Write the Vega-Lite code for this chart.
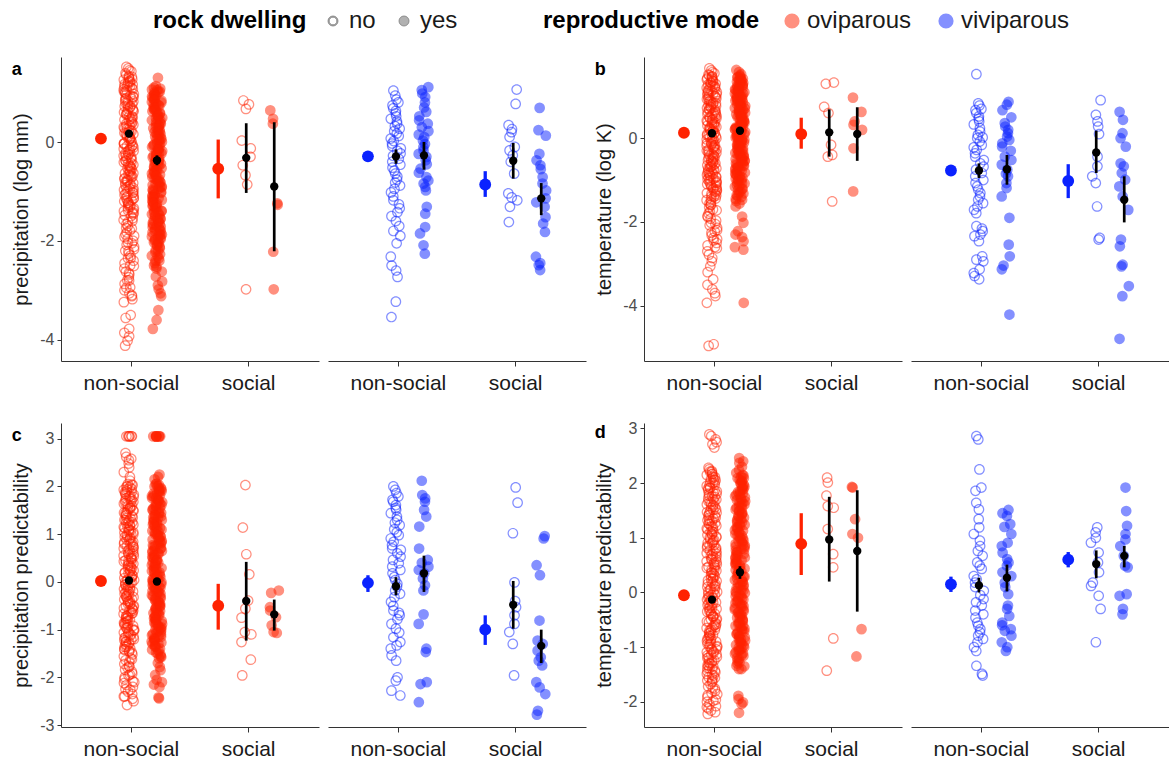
{
"$schema": "https://vega.github.io/schema/vega-lite/v6.json",
"padding": {"left": 11, "top": 9, "right": 0, "bottom": 0},
"config": {"font": "Liberation Sans", "view": {"stroke": null},
 "range": {"category": ["#ff2200", "#0a22ff"]},
 "scale": {"bandPaddingInner": 0, "bandPaddingOuter": 0.1026},
 "axisX": {"labelAngle": 0, "labelFontSize": 21, "labelColor": "#1a1a1a", "tickSize": 5, "labelPadding": 6, "domainColor": "#333", "tickColor": "#333", "grid": false},
 "axisY": {"grid": false, "labelFontSize": 16, "labelColor": "#4d4d4d", "labelExpr": "replace(datum.label, '\u2212', '-')", "titleFontSize": 20, "titleFontWeight": "normal", "titleColor": "#1a1a1a", "tickSize": 4, "labelPadding": 3, "titlePadding": 8, "domainColor": "#333", "tickColor": "#333"},
 "title": {"fontSize": 18, "fontWeight": "bold", "color": "#000", "anchor": "start", "frame": "bounds", "offset": -22}},
"datasets": {"d": [
{"p":"a","m":"oviparous","s":"non-social","r":"no","v":[1.52,1.49,1.45,1.43,1.39,1.36,1.33,1.31,1.29,1.26,1.23,1.21,1.19,1.16,1.13,1.12,1.09,1.06,1.04,1.01,0.99,0.97,0.94,0.91,0.89,0.87,0.84,0.82,0.79,0.77,0.74,0.72,0.7,0.67,0.64,0.62,0.6,0.57,0.55,0.52,0.5,0.47,0.45,0.43,0.4,0.37,0.35,0.33,0.3,0.28,0.25,0.23,0.2,0.18,0.16,0.13,0.1,0.08,0.06,0.03,0.01,-0.02,-0.04,-0.07,-0.09,-0.11,-0.14,-0.16,-0.19,-0.21,-0.24,-0.26,-0.28,-0.31,-0.33,-0.36,-0.38,-0.41,-0.43,-0.46,-0.48,-0.5,-0.53,-0.55,-0.58,-0.6,-0.63,-0.65,-0.68,-0.7,-0.72,-0.75,-0.77,-0.8,-0.82,-0.85,-0.87,-0.9,-0.92,-0.95,-0.97,-1.0,-1.02,-1.05,-1.07,-1.1,-1.13,-1.15,-1.18,-1.2,-1.23,-1.26,-1.28,-1.31,-1.34,-1.37,-1.4,-1.43,-1.46,-1.5,-1.54,-1.58,-1.62,-1.66,-1.7,-1.74,-1.79,-1.83,-1.87,-1.92,-1.96,-2.0,-2.04,-2.08,-2.12,-2.17,-2.21,-2.26,-2.3,-2.35,-2.4,-2.45,-2.51,-2.56,-2.62,-2.68,-2.74,-2.8,-2.87,-2.94,-3.0,-3.06,-3.12,-3.18,-3.24,-3.5,-3.56,-3.78,-3.86,-3.93,-4.02,-4.12]},
{"p":"a","m":"oviparous","s":"non-social","r":"no","v":[1.32,1.27,1.22,1.17,1.12,1.07,1.02,0.97,0.92,0.87,0.82,0.77,0.72,0.67,0.62,0.57,0.52,0.47,0.42,0.37,0.32,0.27,0.22,0.17,0.12,0.07,0.02,-0.03,-0.08,-0.13,-0.18,-0.23,-0.28,-0.33,-0.38,-0.43,-0.48,-0.53,-0.58,-0.63,-0.68,-0.73,-0.78,-0.83,-0.88,-0.93,-0.98,-1.03,-1.08,-1.13,-1.18,-1.23,-1.28,-1.33,-1.38,-1.43,-1.48,-1.6,-1.75,-1.9,-2.05,-2.2,-2.35,-2.5,-2.65,-2.8,-2.95,-3.1]},
{"p":"a","m":"oviparous","s":"non-social","r":"yes","v":[1.3,1.13,1.1,1.08,1.05,1.02,1.0,0.97,0.94,0.92,0.89,0.86,0.84,0.81,0.78,0.76,0.73,0.7,0.68,0.65,0.62,0.6,0.57,0.54,0.52,0.49,0.46,0.44,0.41,0.38,0.36,0.33,0.3,0.28,0.25,0.22,0.2,0.17,0.14,0.12,0.09,0.06,0.04,0.01,-0.02,-0.04,-0.07,-0.1,-0.12,-0.15,-0.18,-0.2,-0.23,-0.26,-0.28,-0.31,-0.34,-0.36,-0.39,-0.42,-0.44,-0.47,-0.5,-0.52,-0.55,-0.58,-0.6,-0.63,-0.66,-0.68,-0.71,-0.74,-0.76,-0.79,-0.82,-0.84,-0.87,-0.9,-0.92,-0.95,-0.98,-1.0,-1.03,-1.06,-1.08,-1.11,-1.14,-1.16,-1.19,-1.22,-1.24,-1.27,-1.3,-1.32,-1.35,-1.38,-1.4,-1.43,-1.46,-1.48,-1.51,-1.54,-1.56,-1.59,-1.62,-1.64,-1.67,-1.7,-1.72,-1.75,-1.78,-1.8,-1.83,-1.86,-1.88,-1.91,-1.94,-1.96,-1.99,-2.02,-2.05,-2.08,-2.12,-2.15,-2.19,-2.23,-2.27,-2.31,-2.35,-2.4,-2.45,-2.5,-2.56,-2.62,-2.72,-2.82,-2.9,-2.98,-3.06,-3.12,-3.4,-3.6,-3.78]},
{"p":"a","m":"oviparous","s":"non-social","r":"yes","v":[1.06,1.01,0.96,0.91,0.85,0.8,0.75,0.69,0.64,0.59,0.53,0.48,0.43,0.37,0.32,0.27,0.21,0.16,0.11,0.05,0.0,-0.05,-0.11,-0.16,-0.21,-0.27,-0.32,-0.37,-0.43,-0.48,-0.53,-0.59,-0.64,-0.69,-0.75,-0.8,-0.85,-0.91,-0.96,-1.01,-1.07,-1.12,-1.17,-1.23,-1.28,-1.33,-1.39,-1.44,-1.49,-1.55,-1.6,-1.65,-1.71,-1.76,-1.81,-1.87,-1.92,-1.97,-2.03,-2.1,-2.2,-2.3,-2.4,-2.52]},
{"p":"a","m":"oviparous","s":"social","r":"no","v":[0.84,0.76,0.67,0.03,-0.13,-0.3,-0.47,-0.67,-0.86,-2.98]},
{"p":"a","m":"oviparous","s":"social","r":"yes","v":[0.64,0.47,0.37,-1.24,-1.27,-2.22,-2.98]},
{"p":"a","m":"viviparous","s":"non-social","r":"no","v":[1.04,0.94,0.86,0.8,0.74,0.68,0.63,0.58,0.52,0.47,0.42,0.37,0.32,0.27,0.22,0.17,0.12,0.07,0.02,-0.03,-0.08,-0.13,-0.18,-0.23,-0.28,-0.34,-0.4,-0.46,-0.52,-0.58,-0.64,-0.7,-0.76,-0.82,-0.88,-0.95,-1.02,-1.1,-1.18,-1.26,-1.34,-1.42,-1.5,-1.6,-1.7,-1.8,-1.9,-2.05,-2.32,-2.5,-2.6,-2.73,-3.23,-3.54]},
{"p":"a","m":"viviparous","s":"non-social","r":"yes","v":[1.11,1.05,0.98,0.91,0.8,0.7,0.61,0.52,0.44,0.37,0.3,0.22,0.15,0.1,0.03,-0.04,-0.1,-0.17,-0.24,-0.3,-0.37,-0.45,-0.54,-0.62,-0.71,-0.78,-0.84,-0.91,-0.98,-1.31,-1.45,-1.72,-1.85,-2.09,-2.26]},
{"p":"a","m":"viviparous","s":"social","r":"no","v":[1.06,0.77,0.34,0.26,0.2,0.1,-0.1,-0.17,-0.27,-0.4,-0.64,-1.04,-1.12,-1.18,-1.31,-1.62]},
{"p":"a","m":"viviparous","s":"social","r":"yes","v":[0.69,0.24,0.13,-0.24,-0.37,-0.47,-0.55,-0.71,-0.84,-0.98,-1.14,-1.22,-1.31,-1.52,-1.65,-1.82,-2.32,-2.45,-2.49,-2.59]},
{"p":"a","m":"oviparous","s":"non-social","r":"all","v":0.07,"lo":0.03,"hi":0.11},
{"p":"a","m":"oviparous","s":"non-social","r":"no","v":0.17,"lo":0.13,"hi":0.21},
{"p":"a","m":"oviparous","s":"non-social","r":"yes","v":-0.37,"lo":-0.47,"hi":-0.27},
{"p":"a","m":"oviparous","s":"social","r":"all","v":-0.54,"lo":-1.14,"hi":0.05},
{"p":"a","m":"oviparous","s":"social","r":"no","v":-0.32,"lo":-1.03,"hi":0.38},
{"p":"a","m":"oviparous","s":"social","r":"yes","v":-0.9,"lo":-2.21,"hi":0.4},
{"p":"a","m":"viviparous","s":"non-social","r":"all","v":-0.29,"lo":-0.34,"hi":-0.24},
{"p":"a","m":"viviparous","s":"non-social","r":"no","v":-0.29,"lo":-0.44,"hi":-0.15},
{"p":"a","m":"viviparous","s":"non-social","r":"yes","v":-0.27,"lo":-0.56,"hi":0.0},
{"p":"a","m":"viviparous","s":"social","r":"all","v":-0.86,"lo":-1.11,"hi":-0.59},
{"p":"a","m":"viviparous","s":"social","r":"no","v":-0.38,"lo":-0.74,"hi":-0.02},
{"p":"a","m":"viviparous","s":"social","r":"yes","v":-1.14,"lo":-1.48,"hi":-0.83},
{"p":"b","m":"oviparous","s":"non-social","r":"no","v":[1.67,1.62,1.58,1.55,1.52,1.5,1.47,1.45,1.42,1.4,1.37,1.35,1.32,1.3,1.27,1.25,1.22,1.2,1.17,1.15,1.12,1.1,1.07,1.05,1.02,1.0,0.97,0.95,0.92,0.9,0.87,0.85,0.82,0.8,0.77,0.75,0.72,0.7,0.67,0.65,0.62,0.6,0.57,0.55,0.52,0.5,0.47,0.45,0.42,0.4,0.37,0.35,0.32,0.3,0.27,0.25,0.22,0.2,0.17,0.15,0.12,0.1,0.07,0.05,0.02,0.0,-0.03,-0.05,-0.08,-0.1,-0.13,-0.15,-0.18,-0.2,-0.23,-0.25,-0.28,-0.3,-0.33,-0.35,-0.38,-0.4,-0.43,-0.45,-0.48,-0.5,-0.53,-0.55,-0.58,-0.6,-0.63,-0.65,-0.68,-0.7,-0.73,-0.75,-0.78,-0.8,-0.83,-0.85,-0.88,-0.9,-0.93,-0.95,-0.98,-1.0,-1.03,-1.05,-1.08,-1.1,-1.13,-1.16,-1.19,-1.22,-1.25,-1.28,-1.31,-1.34,-1.37,-1.4,-1.44,-1.48,-1.52,-1.56,-1.6,-1.65,-1.7,-1.75,-1.8,-1.86,-1.92,-1.97,-2.02,-2.08,-2.14,-2.2,-2.26,-2.32,-2.38,-2.44,-2.5,-2.56,-2.63,-2.7,-2.78,-2.86,-2.94,-3.06,-3.2,-3.37,-3.5,-3.61,-3.7,-3.77,-3.93,-4.92,-4.96]},
{"p":"b","m":"oviparous","s":"non-social","r":"no","v":[1.48,1.43,1.38,1.33,1.28,1.23,1.18,1.13,1.08,1.03,0.98,0.93,0.88,0.83,0.78,0.73,0.68,0.63,0.58,0.53,0.48,0.43,0.38,0.33,0.28,0.23,0.18,0.13,0.08,0.03,-0.02,-0.07,-0.12,-0.17,-0.22,-0.27,-0.32,-0.37,-0.42,-0.47,-0.52,-0.57,-0.62,-0.67,-0.72,-0.77,-0.82,-0.87,-0.92,-0.97,-1.02,-1.07,-1.12,-1.17,-1.22,-1.27,-1.33,-1.39,-1.46,-1.58,-1.72,-1.88,-2.05,-2.23,-2.41,-2.6]},
{"p":"b","m":"oviparous","s":"non-social","r":"yes","v":[1.63,1.58,1.53,1.5,1.47,1.45,1.42,1.4,1.37,1.35,1.32,1.3,1.27,1.25,1.22,1.2,1.17,1.15,1.12,1.1,1.07,1.05,1.02,1.0,0.97,0.95,0.92,0.9,0.87,0.85,0.82,0.8,0.77,0.75,0.72,0.7,0.67,0.65,0.62,0.6,0.57,0.55,0.52,0.5,0.47,0.45,0.42,0.4,0.37,0.35,0.32,0.3,0.27,0.25,0.22,0.2,0.17,0.15,0.12,0.1,0.07,0.05,0.02,0.0,-0.03,-0.05,-0.08,-0.1,-0.13,-0.15,-0.18,-0.2,-0.23,-0.25,-0.28,-0.3,-0.33,-0.35,-0.38,-0.4,-0.43,-0.45,-0.48,-0.5,-0.53,-0.55,-0.58,-0.6,-0.63,-0.66,-0.69,-0.72,-0.75,-0.78,-0.81,-0.84,-0.87,-0.9,-0.93,-0.96,-0.99,-1.02,-1.05,-1.08,-1.12,-1.16,-1.2,-1.24,-1.28,-1.32,-1.36,-1.4,-1.45,-1.5,-1.56,-1.63,-1.87,-2.02,-2.22,-2.3,-2.36,-2.46,-2.6,-2.66,-3.93]},
{"p":"b","m":"oviparous","s":"non-social","r":"yes","v":[1.46,1.41,1.36,1.31,1.26,1.21,1.16,1.11,1.06,1.01,0.96,0.91,0.86,0.81,0.76,0.71,0.66,0.61,0.56,0.51,0.46,0.41,0.36,0.31,0.26,0.21,0.16,0.11,0.06,0.01,-0.04,-0.09,-0.14,-0.19,-0.24,-0.29,-0.34,-0.39,-0.44,-0.49,-0.54,-0.59,-0.64,-0.7,-0.76,-0.82,-0.88,-0.94,-1.0,-1.07,-1.14,-1.22,-1.3,-1.38,-1.47]},
{"p":"b","m":"oviparous","s":"social","r":"no","v":[1.33,1.3,0.75,0.6,-0.16,-0.4,-0.44,-1.51]},
{"p":"b","m":"oviparous","s":"social","r":"yes","v":[0.97,0.63,0.4,0.32,0.2,-0.24,-1.27]},
{"p":"b","m":"viviparous","s":"non-social","r":"no","v":[1.53,0.83,0.78,0.7,0.67,0.6,0.52,0.46,0.4,0.33,0.24,0.16,0.08,0.02,0.0,-0.08,-0.16,-0.22,-0.28,-0.36,-0.44,-0.52,-0.6,-0.68,-0.75,-0.83,-0.91,-1.0,-1.07,-1.15,-1.23,-1.31,-1.39,-1.47,-1.55,-1.63,-1.71,-1.79,-2.1,-2.16,-2.22,-2.3,-2.34,-2.46,-2.82,-2.9,-2.94,-3.13,-3.22,-3.29,-3.37]},
{"p":"b","m":"viviparous","s":"non-social","r":"yes","v":[0.87,0.8,0.67,0.5,0.36,0.28,0.2,0.12,0.04,-0.04,-0.12,-0.2,-0.3,-0.44,-0.52,-0.63,-0.75,-0.85,-0.91,-1.07,-1.19,-1.39,-1.9,-2.54,-2.82,-3.04,-3.13,-4.21]},
{"p":"b","m":"viviparous","s":"social","r":"no","v":[0.91,0.56,0.4,0.28,0.1,-0.44,-0.67,-0.91,-1.07,-1.63,-2.38,-2.42]},
{"p":"b","m":"viviparous","s":"social","r":"yes","v":[0.63,0.44,0.12,0.0,-0.2,-0.6,-0.67,-0.83,-0.99,-1.15,-1.39,-1.71,-2.42,-2.58,-3.02,-3.06,-3.53,-3.77,-4.79]},
{"p":"b","m":"oviparous","s":"non-social","r":"all","v":0.13,"lo":0.1,"hi":0.16},
{"p":"b","m":"oviparous","s":"non-social","r":"no","v":0.12,"lo":0.09,"hi":0.15},
{"p":"b","m":"oviparous","s":"non-social","r":"yes","v":0.18,"lo":0.14,"hi":0.22},
{"p":"b","m":"oviparous","s":"social","r":"all","v":0.1,"lo":-0.25,"hi":0.49},
{"p":"b","m":"oviparous","s":"social","r":"no","v":0.14,"lo":-0.44,"hi":0.69},
{"p":"b","m":"oviparous","s":"social","r":"yes","v":0.1,"lo":-0.54,"hi":0.74},
{"p":"b","m":"viviparous","s":"non-social","r":"all","v":-0.77,"lo":-0.82,"hi":-0.72},
{"p":"b","m":"viviparous","s":"non-social","r":"no","v":-0.77,"lo":-0.95,"hi":-0.6},
{"p":"b","m":"viviparous","s":"non-social","r":"yes","v":-0.74,"lo":-1.11,"hi":-0.4},
{"p":"b","m":"viviparous","s":"social","r":"all","v":-1.02,"lo":-1.43,"hi":-0.62},
{"p":"b","m":"viviparous","s":"social","r":"no","v":-0.34,"lo":-0.83,"hi":0.18},
{"p":"b","m":"viviparous","s":"social","r":"yes","v":-1.47,"lo":-2.01,"hi":-0.91},
{"p":"c","m":"oviparous","s":"non-social","r":"no","v":[3.05,3.05,3.05,3.05,2.7,2.62,2.55,2.48,2.4,2.3,2.2,2.12,2.05,2.03,2.0,1.98,1.95,1.93,1.9,1.88,1.85,1.83,1.8,1.78,1.75,1.73,1.7,1.68,1.65,1.63,1.6,1.58,1.55,1.53,1.5,1.48,1.45,1.43,1.4,1.38,1.35,1.33,1.3,1.28,1.25,1.23,1.2,1.18,1.15,1.13,1.1,1.08,1.05,1.03,1.0,0.98,0.95,0.93,0.9,0.88,0.85,0.83,0.8,0.78,0.75,0.73,0.7,0.68,0.65,0.63,0.6,0.58,0.55,0.53,0.5,0.48,0.45,0.43,0.4,0.38,0.35,0.33,0.3,0.28,0.25,0.23,0.2,0.18,0.15,0.13,0.1,0.08,0.05,0.03,0.0,-0.02,-0.05,-0.07,-0.1,-0.12,-0.15,-0.17,-0.2,-0.22,-0.25,-0.27,-0.3,-0.32,-0.35,-0.37,-0.4,-0.42,-0.45,-0.47,-0.5,-0.52,-0.55,-0.57,-0.6,-0.62,-0.65,-0.67,-0.7,-0.72,-0.75,-0.77,-0.8,-0.82,-0.85,-0.87,-0.9,-0.92,-0.95,-0.97,-1.0,-1.02,-1.05,-1.07,-1.1,-1.12,-1.15,-1.17,-1.2,-1.22,-1.25,-1.27,-1.3,-1.33,-1.36,-1.39,-1.42,-1.45,-1.48,-1.52,-1.56,-1.6,-1.64,-1.68,-1.72,-1.76,-1.8,-1.84,-1.88,-1.92,-1.96,-2.0,-2.04,-2.08,-2.12,-2.16,-2.2,-2.25,-2.3,-2.35,-2.4,-2.45,-2.5,-2.58]},
{"p":"c","m":"oviparous","s":"non-social","r":"no","v":[3.05,3.05,2.58,2.04,1.99,1.94,1.89,1.84,1.79,1.74,1.69,1.64,1.59,1.54,1.49,1.44,1.39,1.34,1.29,1.24,1.19,1.14,1.09,1.04,0.99,0.94,0.89,0.84,0.79,0.74,0.69,0.64,0.59,0.54,0.49,0.44,0.39,0.34,0.29,0.24,0.19,0.14,0.09,0.04,-0.01,-0.06,-0.11,-0.16,-0.21,-0.26,-0.31,-0.36,-0.41,-0.46,-0.51,-0.56,-0.61,-0.66,-0.71,-0.76,-0.81,-0.86,-0.91,-0.96,-1.01,-1.06,-1.11,-1.16,-1.21,-1.26,-1.31,-1.36,-1.41,-1.46,-1.62,-1.78,-1.94,-2.1,-2.26,-2.4]},
{"p":"c","m":"oviparous","s":"non-social","r":"yes","v":[3.05,3.05,3.05,3.05,3.05,3.05,2.25,2.2,2.15,2.06,2.03,2.0,1.97,1.94,1.91,1.88,1.85,1.82,1.79,1.76,1.73,1.7,1.67,1.64,1.61,1.58,1.55,1.52,1.49,1.46,1.43,1.4,1.37,1.34,1.31,1.28,1.25,1.22,1.19,1.16,1.13,1.1,1.07,1.04,1.01,0.98,0.95,0.92,0.89,0.86,0.83,0.8,0.77,0.74,0.71,0.68,0.65,0.62,0.59,0.56,0.53,0.5,0.47,0.44,0.41,0.38,0.35,0.32,0.29,0.26,0.23,0.2,0.17,0.14,0.11,0.08,0.05,0.02,-0.01,-0.04,-0.07,-0.1,-0.13,-0.16,-0.19,-0.22,-0.25,-0.28,-0.31,-0.34,-0.37,-0.4,-0.43,-0.46,-0.49,-0.52,-0.55,-0.58,-0.61,-0.64,-0.67,-0.7,-0.73,-0.76,-0.79,-0.82,-0.85,-0.88,-0.91,-0.94,-0.97,-1.0,-1.03,-1.06,-1.09,-1.12,-1.15,-1.18,-1.21,-1.24,-1.27,-1.3,-1.33,-1.36,-1.4,-1.44,-1.48,-1.52,-1.56,-1.6,-1.7,-1.78,-1.85,-1.95,-2.05,-2.1,-2.15,-2.2,-2.42,-2.44]},
{"p":"c","m":"oviparous","s":"non-social","r":"yes","v":[3.05,3.05,2.05,2.0,1.95,1.9,1.85,1.8,1.75,1.7,1.65,1.6,1.55,1.5,1.45,1.4,1.35,1.3,1.25,1.2,1.15,1.1,1.05,1.0,0.95,0.9,0.85,0.8,0.75,0.7,0.65,0.6,0.55,0.5,0.45,0.4,0.35,0.3,0.25,0.2,0.15,0.1,0.05,0.0,-0.05,-0.1,-0.15,-0.2,-0.25,-0.3,-0.35,-0.4,-0.45,-0.5,-0.55,-0.6,-0.65,-0.7,-0.75,-0.8,-0.85,-0.9,-0.95,-1.0,-1.05,-1.1,-1.15,-1.2,-1.25,-1.3,-1.35,-1.42,-1.5,-1.58]},
{"p":"c","m":"oviparous","s":"social","r":"no","v":[2.03,1.14,0.58,0.16,-0.39,-0.56,-0.75,-1.05,-1.1,-1.26,-1.63,-1.96]},
{"p":"c","m":"oviparous","s":"social","r":"yes","v":[-0.18,-0.23,-0.53,-0.6,-0.74,-0.91,-1.05,-1.07]},
{"p":"c","m":"viviparous","s":"non-social","r":"no","v":[2.0,1.93,1.86,1.79,1.72,1.68,1.61,1.55,1.51,1.44,1.37,1.3,1.24,1.19,1.1,1.04,0.98,0.91,0.84,0.77,0.7,0.67,0.6,0.53,0.46,0.39,0.32,0.25,0.18,0.1,0.04,-0.04,-0.1,-0.18,-0.25,-0.32,-0.42,-0.5,-0.6,-0.65,-0.7,-0.78,-0.88,-0.98,-1.06,-1.16,-1.26,-1.33,-1.4,-1.54,-1.65,-2.0,-2.07,-2.28,-2.38]},
{"p":"c","m":"viviparous","s":"non-social","r":"yes","v":[2.12,1.82,1.75,1.68,1.51,1.37,1.16,0.7,0.46,0.4,0.32,0.25,0.18,0.07,-0.07,-0.18,-0.68,-0.88,-1.4,-1.47,-2.1,-2.14,-2.52]},
{"p":"c","m":"viviparous","s":"social","r":"no","v":[1.98,1.66,1.02,-0.01,-0.4,-0.53,-0.7,-0.88,-1.05,-1.3,-1.96]},
{"p":"c","m":"viviparous","s":"social","r":"yes","v":[0.96,0.91,0.35,0.14,-0.81,-1.23,-1.3,-1.44,-1.58,-1.65,-1.75,-2.1,-2.21,-2.35,-2.7,-2.78]},
{"p":"c","m":"oviparous","s":"non-social","r":"all","v":0.02,"lo":-0.01,"hi":0.05},
{"p":"c","m":"oviparous","s":"non-social","r":"no","v":0.03,"lo":0.0,"hi":0.06},
{"p":"c","m":"oviparous","s":"non-social","r":"yes","v":0.01,"lo":-0.04,"hi":0.06},
{"p":"c","m":"oviparous","s":"social","r":"all","v":-0.5,"lo":-1.0,"hi":-0.04},
{"p":"c","m":"oviparous","s":"social","r":"no","v":-0.4,"lo":-1.23,"hi":0.42},
{"p":"c","m":"oviparous","s":"social","r":"yes","v":-0.68,"lo":-1.02,"hi":-0.37},
{"p":"c","m":"viviparous","s":"non-social","r":"all","v":-0.02,"lo":-0.21,"hi":0.14},
{"p":"c","m":"viviparous","s":"non-social","r":"no","v":-0.09,"lo":-0.28,"hi":0.1},
{"p":"c","m":"viviparous","s":"non-social","r":"yes","v":0.18,"lo":-0.21,"hi":0.55},
{"p":"c","m":"viviparous","s":"social","r":"all","v":-1.0,"lo":-1.32,"hi":-0.7},
{"p":"c","m":"viviparous","s":"social","r":"no","v":-0.48,"lo":-0.98,"hi":0.02},
{"p":"c","m":"viviparous","s":"social","r":"yes","v":-1.34,"lo":-1.7,"hi":-1.0},
{"p":"d","m":"oviparous","s":"non-social","r":"no","v":[2.89,2.86,2.71,2.65,2.28,2.25,2.22,2.2,2.17,2.15,2.12,2.1,2.07,2.05,2.02,2.0,1.97,1.95,1.92,1.9,1.87,1.85,1.82,1.8,1.77,1.75,1.72,1.7,1.67,1.65,1.62,1.6,1.57,1.55,1.52,1.5,1.47,1.45,1.42,1.4,1.37,1.35,1.32,1.3,1.27,1.25,1.22,1.2,1.17,1.15,1.12,1.1,1.07,1.05,1.02,1.0,0.97,0.95,0.92,0.9,0.87,0.85,0.82,0.8,0.77,0.75,0.72,0.7,0.67,0.65,0.62,0.6,0.57,0.55,0.52,0.5,0.47,0.45,0.42,0.4,0.37,0.35,0.32,0.3,0.27,0.25,0.22,0.2,0.17,0.15,0.12,0.1,0.07,0.05,0.02,0.0,-0.03,-0.05,-0.08,-0.1,-0.13,-0.15,-0.18,-0.2,-0.23,-0.25,-0.28,-0.3,-0.33,-0.35,-0.38,-0.4,-0.43,-0.45,-0.48,-0.5,-0.53,-0.55,-0.58,-0.6,-0.63,-0.65,-0.68,-0.7,-0.73,-0.75,-0.78,-0.8,-0.83,-0.85,-0.88,-0.9,-0.93,-0.95,-0.98,-1.0,-1.03,-1.05,-1.08,-1.1,-1.13,-1.15,-1.18,-1.2,-1.23,-1.25,-1.28,-1.3,-1.33,-1.35,-1.38,-1.4,-1.43,-1.46,-1.49,-1.52,-1.55,-1.58,-1.61,-1.64,-1.68,-1.72,-1.76,-1.8,-1.84,-1.88,-1.92,-1.96,-2.0,-2.04,-2.08,-2.12,-2.16,-2.19,-2.22]},
{"p":"d","m":"oviparous","s":"non-social","r":"no","v":[2.8,2.75,2.21,2.16,2.11,2.06,2.01,1.96,1.91,1.86,1.81,1.76,1.71,1.66,1.61,1.56,1.51,1.46,1.41,1.36,1.31,1.26,1.21,1.16,1.11,1.06,1.01,0.96,0.91,0.86,0.81,0.76,0.71,0.66,0.61,0.56,0.51,0.46,0.41,0.36,0.31,0.26,0.21,0.16,0.11,0.06,0.01,-0.04,-0.09,-0.14,-0.19,-0.24,-0.29,-0.34,-0.39,-0.44,-0.49,-0.54,-0.59,-0.64,-0.69,-0.74,-0.79,-0.84,-0.89,-0.94,-0.99,-1.04,-1.09,-1.14,-1.19,-1.24,-1.29,-1.34,-1.39,-1.44,-1.5,-1.56,-1.62,-1.74,-1.86,-1.98,-2.1]},
{"p":"d","m":"oviparous","s":"non-social","r":"yes","v":[2.46,2.4,2.37,2.3,2.24,2.19,2.15,2.12,2.09,2.06,2.03,2.0,1.97,1.94,1.91,1.88,1.85,1.82,1.79,1.76,1.73,1.7,1.67,1.64,1.61,1.58,1.55,1.52,1.49,1.46,1.43,1.4,1.37,1.34,1.31,1.28,1.25,1.22,1.19,1.16,1.13,1.1,1.07,1.04,1.01,0.98,0.95,0.92,0.89,0.86,0.83,0.8,0.77,0.74,0.71,0.68,0.65,0.62,0.59,0.56,0.53,0.5,0.47,0.44,0.41,0.38,0.35,0.32,0.29,0.26,0.23,0.2,0.17,0.14,0.11,0.08,0.05,0.02,-0.01,-0.04,-0.07,-0.1,-0.13,-0.16,-0.19,-0.22,-0.25,-0.28,-0.31,-0.34,-0.37,-0.4,-0.43,-0.46,-0.49,-0.52,-0.55,-0.58,-0.61,-0.64,-0.67,-0.7,-0.73,-0.76,-0.79,-0.82,-0.85,-0.88,-0.91,-0.94,-0.97,-1.0,-1.03,-1.06,-1.09,-1.12,-1.15,-1.2,-1.25,-1.3,-1.35,-1.4,-1.89,-1.95,-2.01,-2.04,-2.2]},
{"p":"d","m":"oviparous","s":"non-social","r":"yes","v":[2.14,2.09,2.04,1.99,1.94,1.89,1.84,1.79,1.74,1.69,1.64,1.59,1.54,1.49,1.44,1.39,1.34,1.29,1.24,1.19,1.14,1.09,1.04,0.99,0.94,0.89,0.84,0.79,0.74,0.69,0.64,0.59,0.54,0.49,0.44,0.39,0.34,0.29,0.24,0.19,0.14,0.09,0.04,-0.01,-0.06,-0.11,-0.16,-0.21,-0.26,-0.31,-0.36,-0.41,-0.46,-0.51,-0.56,-0.61,-0.66,-0.71,-0.76,-0.81,-0.86,-0.91,-0.96,-1.01,-1.06,-1.11,-1.16,-1.22,-1.28,-1.34,-1.4]},
{"p":"d","m":"oviparous","s":"social","r":"no","v":[2.1,2.01,1.77,1.58,1.55,1.16,0.7,0.46,-0.84,-1.43]},
{"p":"d","m":"oviparous","s":"social","r":"yes","v":[1.93,1.92,1.34,1.07,1.0,-0.67,-1.17]},
{"p":"d","m":"viviparous","s":"non-social","r":"no","v":[2.86,2.8,2.25,1.92,1.86,1.64,1.52,1.34,1.19,1.07,0.95,0.85,0.76,0.67,0.55,0.49,0.43,0.3,0.24,0.18,0.1,0.03,-0.05,-0.12,-0.18,-0.24,-0.33,-0.4,-0.46,-0.55,-0.61,-0.67,-0.73,-0.79,-0.85,-0.91,-1.0,-1.07,-1.34,-1.49,-1.52]},
{"p":"d","m":"viviparous","s":"non-social","r":"yes","v":[1.51,1.45,1.4,1.25,1.2,1.07,0.91,0.85,0.73,0.61,0.55,0.49,0.37,0.3,0.18,0.1,-0.03,-0.24,-0.3,-0.43,-0.55,-0.6,-0.67,-0.7,-0.79,-0.91,-1.0,-1.07]},
{"p":"d","m":"viviparous","s":"social","r":"no","v":[1.19,1.1,1.0,0.91,0.73,0.55,0.37,0.18,0.12,-0.06,-0.3,-0.91]},
{"p":"d","m":"viviparous","s":"social","r":"yes","v":[1.92,1.49,1.22,1.07,0.97,0.85,0.67,0.49,0.46,-0.03,-0.06,-0.3,-0.4]},
{"p":"d","m":"oviparous","s":"non-social","r":"all","v":-0.05,"lo":-0.08,"hi":-0.02},
{"p":"d","m":"oviparous","s":"non-social","r":"no","v":-0.13,"lo":-0.16,"hi":-0.1},
{"p":"d","m":"oviparous","s":"non-social","r":"yes","v":0.37,"lo":0.25,"hi":0.48},
{"p":"d","m":"oviparous","s":"social","r":"all","v":0.89,"lo":0.32,"hi":1.45},
{"p":"d","m":"oviparous","s":"social","r":"no","v":0.97,"lo":0.2,"hi":1.75},
{"p":"d","m":"oviparous","s":"social","r":"yes","v":0.76,"lo":-0.35,"hi":1.87},
{"p":"d","m":"viviparous","s":"non-social","r":"all","v":0.15,"lo":0.01,"hi":0.29},
{"p":"d","m":"viviparous","s":"non-social","r":"no","v":0.13,"lo":0.0,"hi":0.27},
{"p":"d","m":"viviparous","s":"non-social","r":"yes","v":0.27,"lo":0.02,"hi":0.51},
{"p":"d","m":"viviparous","s":"social","r":"all","v":0.6,"lo":0.46,"hi":0.74},
{"p":"d","m":"viviparous","s":"social","r":"no","v":0.52,"lo":0.26,"hi":0.77},
{"p":"d","m":"viviparous","s":"social","r":"yes","v":0.67,"lo":0.46,"hi":0.85}
]},
"spacing": 27,
"vconcat": [
{"spacing": 8, "hconcat": [
 {"spacing": 9, "hconcat": [
  {"title": "a", "data": {"name": "d"}, "transform": [{"filter": "datum.p === 'a' && datum.m === 'oviparous'"}], "width": 258, "height": 304,
   "encoding": {"x": {"field": "s", "type": "nominal", "title": null}, "xOffset": {"field": "xo", "type": "quantitative", "scale": {"domain": [-2.089, 2.089], "range": [0, 117]}},
    "y": {"field": "v", "type": "quantitative", "title": "precipitation (log mm)", "scale": {"domain": [-4.43, 1.72], "nice": false, "zero": false}, "axis": {"values": [-4, -2, 0]}}},
   "layer": [
    {"transform": [{"filter": "isArray(datum.v)"}, {"flatten": ["v"]}, {"window": [{"op": "row_number", "as": "rn"}]}, {"calculate": "(datum.r === 'no' ? -0.5 : 0.5) + (((abs(sin(datum.rn * 12.9898 + 78.233)) * 43758.5453) % 1) * 2 - 1) * 0.19", "as": "xo"}],
     "mark": {"type": "point", "filled": true, "size": 115, "opacity": 0.5},
     "encoding": {
      "color": {"field": "m", "type": "nominal", "legend": {"title": "reproductive mode", "orient": "none", "legendX": 482, "legendY": -48, "direction": "horizontal", "titleOrient": "left", "titleLimit": 500, "titleFontSize": 24, "titleFontWeight": "bold", "titleColor": "#000", "labelFontSize": 24, "labelColor": "#1a1a1a", "symbolType": "circle", "symbolSize": 230, "symbolStrokeWidth": 0, "columnPadding": 22, "labelOffset": 3, "titlePadding": 20}},
      "shape": {"field": "r", "type": "nominal", "scale": {"domain": ["no", "yes"], "range": ["M0,-1A1,1,0,1,1,0,1A1,1,0,1,1,0,-1ZM0,-0.77A0.77,0.77,0,1,0,0,0.77A0.77,0.77,0,1,0,0,-0.77Z", "circle"]}, "legend": {"title": "rock dwelling", "orient": "none", "legendX": 92, "legendY": -48, "direction": "horizontal", "titleOrient": "left", "titleLimit": 500, "titleFontSize": 24, "titleFontWeight": "bold", "titleColor": "#000", "labelFontSize": 24, "labelColor": "#1a1a1a", "symbolSize": 100, "symbolFillColor": "#666", "symbolStrokeColor": "#000", "symbolStrokeWidth": 0.8, "columnPadding": 16, "labelOffset": 4, "titlePadding": 14}}}},
    {"transform": [{"filter": "!isArray(datum.v) && datum.r === 'all'"}, {"calculate": "-1.5", "as": "xo"}], "mark": {"type": "rule", "strokeWidth": 3.3},
     "encoding": {"y": {"field": "lo", "type": "quantitative", "title": "precipitation (log mm)"}, "y2": {"field": "hi"}, "color": {"field": "m", "type": "nominal"}}},
    {"transform": [{"filter": "!isArray(datum.v) && datum.r === 'all'"}, {"calculate": "-1.5", "as": "xo"}], "mark": {"type": "circle", "size": 140, "opacity": 1},
     "encoding": {"color": {"field": "m", "type": "nominal"}}},
    {"transform": [{"filter": "!isArray(datum.v) && datum.r !== 'all'"}, {"calculate": "datum.r === 'no' ? -0.5 : 0.5", "as": "xo"}], "mark": {"type": "rule", "strokeWidth": 2.7, "color": "#000"},
     "encoding": {"y": {"field": "lo", "type": "quantitative", "title": "precipitation (log mm)"}, "y2": {"field": "hi"}}},
    {"transform": [{"filter": "!isArray(datum.v) && datum.r !== 'all'"}, {"calculate": "datum.r === 'no' ? -0.5 : 0.5", "as": "xo"}], "mark": {"type": "circle", "size": 70, "opacity": 1, "color": "#000"}}
   ]},
  {"data": {"name": "d"}, "transform": [{"filter": "datum.p === 'a' && datum.m === 'viviparous'"}], "width": 258, "height": 304,
   "encoding": {"x": {"field": "s", "type": "nominal", "title": null}, "xOffset": {"field": "xo", "type": "quantitative", "scale": {"domain": [-2.089, 2.089], "range": [0, 117]}},
    "y": {"field": "v", "type": "quantitative", "scale": {"domain": [-4.43, 1.72], "nice": false, "zero": false}, "axis": null}},
   "layer": [
    {"transform": [{"filter": "isArray(datum.v)"}, {"flatten": ["v"]}, {"window": [{"op": "row_number", "as": "rn"}]}, {"calculate": "(datum.r === 'no' ? -0.5 : 0.5) + (((abs(sin(datum.rn * 12.9898 + 78.233)) * 43758.5453) % 1) * 2 - 1) * 0.19", "as": "xo"}],
     "mark": {"type": "point", "filled": true, "size": 115, "opacity": 0.5},
     "encoding": {"color": {"field": "m", "type": "nominal"}, "shape": {"field": "r", "type": "nominal"}}},
    {"transform": [{"filter": "!isArray(datum.v) && datum.r === 'all'"}, {"calculate": "-1.5", "as": "xo"}], "mark": {"type": "rule", "strokeWidth": 3.3},
     "encoding": {"y": {"field": "lo", "type": "quantitative", "axis": null}, "y2": {"field": "hi"}, "color": {"field": "m", "type": "nominal"}}},
    {"transform": [{"filter": "!isArray(datum.v) && datum.r === 'all'"}, {"calculate": "-1.5", "as": "xo"}], "mark": {"type": "circle", "size": 140, "opacity": 1},
     "encoding": {"color": {"field": "m", "type": "nominal"}}},
    {"transform": [{"filter": "!isArray(datum.v) && datum.r !== 'all'"}, {"calculate": "datum.r === 'no' ? -0.5 : 0.5", "as": "xo"}], "mark": {"type": "rule", "strokeWidth": 2.7, "color": "#000"},
     "encoding": {"y": {"field": "lo", "type": "quantitative", "axis": null}, "y2": {"field": "hi"}}},
    {"transform": [{"filter": "!isArray(datum.v) && datum.r !== 'all'"}, {"calculate": "datum.r === 'no' ? -0.5 : 0.5", "as": "xo"}], "mark": {"type": "circle", "size": 70, "opacity": 1, "color": "#000"}}
   ]}
 ]},
 {"spacing": 9, "hconcat": [
  {"title": "b", "data": {"name": "d"}, "transform": [{"filter": "datum.p === 'b' && datum.m === 'oviparous'"}], "width": 258, "height": 304,
   "encoding": {"x": {"field": "s", "type": "nominal", "title": null}, "xOffset": {"field": "xo", "type": "quantitative", "scale": {"domain": [-2.089, 2.089], "range": [0, 117]}},
    "y": {"field": "v", "type": "quantitative", "title": "temperature (log K)", "scale": {"domain": [-5.32, 1.94], "nice": false, "zero": false}, "axis": {"values": [-4, -2, 0]}}},
   "layer": [
    {"transform": [{"filter": "isArray(datum.v)"}, {"flatten": ["v"]}, {"window": [{"op": "row_number", "as": "rn"}]}, {"calculate": "(datum.r === 'no' ? -0.5 : 0.5) + (((abs(sin(datum.rn * 12.9898 + 78.233)) * 43758.5453) % 1) * 2 - 1) * 0.19", "as": "xo"}],
     "mark": {"type": "point", "filled": true, "size": 115, "opacity": 0.5},
     "encoding": {"color": {"field": "m", "type": "nominal"}, "shape": {"field": "r", "type": "nominal"}}},
    {"transform": [{"filter": "!isArray(datum.v) && datum.r === 'all'"}, {"calculate": "-1.5", "as": "xo"}], "mark": {"type": "rule", "strokeWidth": 3.3},
     "encoding": {"y": {"field": "lo", "type": "quantitative", "title": "temperature (log K)"}, "y2": {"field": "hi"}, "color": {"field": "m", "type": "nominal"}}},
    {"transform": [{"filter": "!isArray(datum.v) && datum.r === 'all'"}, {"calculate": "-1.5", "as": "xo"}], "mark": {"type": "circle", "size": 140, "opacity": 1},
     "encoding": {"color": {"field": "m", "type": "nominal"}}},
    {"transform": [{"filter": "!isArray(datum.v) && datum.r !== 'all'"}, {"calculate": "datum.r === 'no' ? -0.5 : 0.5", "as": "xo"}], "mark": {"type": "rule", "strokeWidth": 2.7, "color": "#000"},
     "encoding": {"y": {"field": "lo", "type": "quantitative", "title": "temperature (log K)"}, "y2": {"field": "hi"}}},
    {"transform": [{"filter": "!isArray(datum.v) && datum.r !== 'all'"}, {"calculate": "datum.r === 'no' ? -0.5 : 0.5", "as": "xo"}], "mark": {"type": "circle", "size": 70, "opacity": 1, "color": "#000"}}
   ]},
  {"data": {"name": "d"}, "transform": [{"filter": "datum.p === 'b' && datum.m === 'viviparous'"}], "width": 258, "height": 304,
   "encoding": {"x": {"field": "s", "type": "nominal", "title": null}, "xOffset": {"field": "xo", "type": "quantitative", "scale": {"domain": [-2.089, 2.089], "range": [0, 117]}},
    "y": {"field": "v", "type": "quantitative", "scale": {"domain": [-5.32, 1.94], "nice": false, "zero": false}, "axis": null}},
   "layer": [
    {"transform": [{"filter": "isArray(datum.v)"}, {"flatten": ["v"]}, {"window": [{"op": "row_number", "as": "rn"}]}, {"calculate": "(datum.r === 'no' ? -0.5 : 0.5) + (((abs(sin(datum.rn * 12.9898 + 78.233)) * 43758.5453) % 1) * 2 - 1) * 0.19", "as": "xo"}],
     "mark": {"type": "point", "filled": true, "size": 115, "opacity": 0.5},
     "encoding": {"color": {"field": "m", "type": "nominal"}, "shape": {"field": "r", "type": "nominal"}}},
    {"transform": [{"filter": "!isArray(datum.v) && datum.r === 'all'"}, {"calculate": "-1.5", "as": "xo"}], "mark": {"type": "rule", "strokeWidth": 3.3},
     "encoding": {"y": {"field": "lo", "type": "quantitative", "axis": null}, "y2": {"field": "hi"}, "color": {"field": "m", "type": "nominal"}}},
    {"transform": [{"filter": "!isArray(datum.v) && datum.r === 'all'"}, {"calculate": "-1.5", "as": "xo"}], "mark": {"type": "circle", "size": 140, "opacity": 1},
     "encoding": {"color": {"field": "m", "type": "nominal"}}},
    {"transform": [{"filter": "!isArray(datum.v) && datum.r !== 'all'"}, {"calculate": "datum.r === 'no' ? -0.5 : 0.5", "as": "xo"}], "mark": {"type": "rule", "strokeWidth": 2.7, "color": "#000"},
     "encoding": {"y": {"field": "lo", "type": "quantitative", "axis": null}, "y2": {"field": "hi"}}},
    {"transform": [{"filter": "!isArray(datum.v) && datum.r !== 'all'"}, {"calculate": "datum.r === 'no' ? -0.5 : 0.5", "as": "xo"}], "mark": {"type": "circle", "size": 70, "opacity": 1, "color": "#000"}}
   ]}
 ]}
]},
{"spacing": 8, "hconcat": [
 {"spacing": 9, "hconcat": [
  {"title": "c", "data": {"name": "d"}, "transform": [{"filter": "datum.p === 'c' && datum.m === 'oviparous'"}], "width": 258, "height": 304,
   "encoding": {"x": {"field": "s", "type": "nominal", "title": null}, "xOffset": {"field": "xo", "type": "quantitative", "scale": {"domain": [-2.089, 2.089], "range": [0, 117]}},
    "y": {"field": "v", "type": "quantitative", "title": "precipitation predictability", "scale": {"domain": [-3.04, 3.33], "nice": false, "zero": false}, "axis": {"values": [-3, -2, -1, 0, 1, 2, 3]}}},
   "layer": [
    {"transform": [{"filter": "isArray(datum.v)"}, {"flatten": ["v"]}, {"window": [{"op": "row_number", "as": "rn"}]}, {"calculate": "(datum.r === 'no' ? -0.5 : 0.5) + (((abs(sin(datum.rn * 12.9898 + 78.233)) * 43758.5453) % 1) * 2 - 1) * 0.19", "as": "xo"}],
     "mark": {"type": "point", "filled": true, "size": 115, "opacity": 0.5},
     "encoding": {"color": {"field": "m", "type": "nominal"}, "shape": {"field": "r", "type": "nominal"}}},
    {"transform": [{"filter": "!isArray(datum.v) && datum.r === 'all'"}, {"calculate": "-1.5", "as": "xo"}], "mark": {"type": "rule", "strokeWidth": 3.3},
     "encoding": {"y": {"field": "lo", "type": "quantitative", "title": "precipitation predictability"}, "y2": {"field": "hi"}, "color": {"field": "m", "type": "nominal"}}},
    {"transform": [{"filter": "!isArray(datum.v) && datum.r === 'all'"}, {"calculate": "-1.5", "as": "xo"}], "mark": {"type": "circle", "size": 140, "opacity": 1},
     "encoding": {"color": {"field": "m", "type": "nominal"}}},
    {"transform": [{"filter": "!isArray(datum.v) && datum.r !== 'all'"}, {"calculate": "datum.r === 'no' ? -0.5 : 0.5", "as": "xo"}], "mark": {"type": "rule", "strokeWidth": 2.7, "color": "#000"},
     "encoding": {"y": {"field": "lo", "type": "quantitative", "title": "precipitation predictability"}, "y2": {"field": "hi"}}},
    {"transform": [{"filter": "!isArray(datum.v) && datum.r !== 'all'"}, {"calculate": "datum.r === 'no' ? -0.5 : 0.5", "as": "xo"}], "mark": {"type": "circle", "size": 70, "opacity": 1, "color": "#000"}}
   ]},
  {"data": {"name": "d"}, "transform": [{"filter": "datum.p === 'c' && datum.m === 'viviparous'"}], "width": 258, "height": 304,
   "encoding": {"x": {"field": "s", "type": "nominal", "title": null}, "xOffset": {"field": "xo", "type": "quantitative", "scale": {"domain": [-2.089, 2.089], "range": [0, 117]}},
    "y": {"field": "v", "type": "quantitative", "scale": {"domain": [-3.04, 3.33], "nice": false, "zero": false}, "axis": null}},
   "layer": [
    {"transform": [{"filter": "isArray(datum.v)"}, {"flatten": ["v"]}, {"window": [{"op": "row_number", "as": "rn"}]}, {"calculate": "(datum.r === 'no' ? -0.5 : 0.5) + (((abs(sin(datum.rn * 12.9898 + 78.233)) * 43758.5453) % 1) * 2 - 1) * 0.19", "as": "xo"}],
     "mark": {"type": "point", "filled": true, "size": 115, "opacity": 0.5},
     "encoding": {"color": {"field": "m", "type": "nominal"}, "shape": {"field": "r", "type": "nominal"}}},
    {"transform": [{"filter": "!isArray(datum.v) && datum.r === 'all'"}, {"calculate": "-1.5", "as": "xo"}], "mark": {"type": "rule", "strokeWidth": 3.3},
     "encoding": {"y": {"field": "lo", "type": "quantitative", "axis": null}, "y2": {"field": "hi"}, "color": {"field": "m", "type": "nominal"}}},
    {"transform": [{"filter": "!isArray(datum.v) && datum.r === 'all'"}, {"calculate": "-1.5", "as": "xo"}], "mark": {"type": "circle", "size": 140, "opacity": 1},
     "encoding": {"color": {"field": "m", "type": "nominal"}}},
    {"transform": [{"filter": "!isArray(datum.v) && datum.r !== 'all'"}, {"calculate": "datum.r === 'no' ? -0.5 : 0.5", "as": "xo"}], "mark": {"type": "rule", "strokeWidth": 2.7, "color": "#000"},
     "encoding": {"y": {"field": "lo", "type": "quantitative", "axis": null}, "y2": {"field": "hi"}}},
    {"transform": [{"filter": "!isArray(datum.v) && datum.r !== 'all'"}, {"calculate": "datum.r === 'no' ? -0.5 : 0.5", "as": "xo"}], "mark": {"type": "circle", "size": 70, "opacity": 1, "color": "#000"}}
   ]}
 ]},
 {"spacing": 9, "hconcat": [
  {"title": "d", "data": {"name": "d"}, "transform": [{"filter": "datum.p === 'd' && datum.m === 'oviparous'"}], "width": 258, "height": 304,
   "encoding": {"x": {"field": "s", "type": "nominal", "title": null}, "xOffset": {"field": "xo", "type": "quantitative", "scale": {"domain": [-2.089, 2.089], "range": [0, 117]}},
    "y": {"field": "v", "type": "quantitative", "title": "temperature predictability", "scale": {"domain": [-2.46, 3.1], "nice": false, "zero": false}, "axis": {"values": [-2, -1, 0, 1, 2, 3]}}},
   "layer": [
    {"transform": [{"filter": "isArray(datum.v)"}, {"flatten": ["v"]}, {"window": [{"op": "row_number", "as": "rn"}]}, {"calculate": "(datum.r === 'no' ? -0.5 : 0.5) + (((abs(sin(datum.rn * 12.9898 + 78.233)) * 43758.5453) % 1) * 2 - 1) * 0.19", "as": "xo"}],
     "mark": {"type": "point", "filled": true, "size": 115, "opacity": 0.5},
     "encoding": {"color": {"field": "m", "type": "nominal"}, "shape": {"field": "r", "type": "nominal"}}},
    {"transform": [{"filter": "!isArray(datum.v) && datum.r === 'all'"}, {"calculate": "-1.5", "as": "xo"}], "mark": {"type": "rule", "strokeWidth": 3.3},
     "encoding": {"y": {"field": "lo", "type": "quantitative", "title": "temperature predictability"}, "y2": {"field": "hi"}, "color": {"field": "m", "type": "nominal"}}},
    {"transform": [{"filter": "!isArray(datum.v) && datum.r === 'all'"}, {"calculate": "-1.5", "as": "xo"}], "mark": {"type": "circle", "size": 140, "opacity": 1},
     "encoding": {"color": {"field": "m", "type": "nominal"}}},
    {"transform": [{"filter": "!isArray(datum.v) && datum.r !== 'all'"}, {"calculate": "datum.r === 'no' ? -0.5 : 0.5", "as": "xo"}], "mark": {"type": "rule", "strokeWidth": 2.7, "color": "#000"},
     "encoding": {"y": {"field": "lo", "type": "quantitative", "title": "temperature predictability"}, "y2": {"field": "hi"}}},
    {"transform": [{"filter": "!isArray(datum.v) && datum.r !== 'all'"}, {"calculate": "datum.r === 'no' ? -0.5 : 0.5", "as": "xo"}], "mark": {"type": "circle", "size": 70, "opacity": 1, "color": "#000"}}
   ]},
  {"data": {"name": "d"}, "transform": [{"filter": "datum.p === 'd' && datum.m === 'viviparous'"}], "width": 258, "height": 304,
   "encoding": {"x": {"field": "s", "type": "nominal", "title": null}, "xOffset": {"field": "xo", "type": "quantitative", "scale": {"domain": [-2.089, 2.089], "range": [0, 117]}},
    "y": {"field": "v", "type": "quantitative", "scale": {"domain": [-2.46, 3.1], "nice": false, "zero": false}, "axis": null}},
   "layer": [
    {"transform": [{"filter": "isArray(datum.v)"}, {"flatten": ["v"]}, {"window": [{"op": "row_number", "as": "rn"}]}, {"calculate": "(datum.r === 'no' ? -0.5 : 0.5) + (((abs(sin(datum.rn * 12.9898 + 78.233)) * 43758.5453) % 1) * 2 - 1) * 0.19", "as": "xo"}],
     "mark": {"type": "point", "filled": true, "size": 115, "opacity": 0.5},
     "encoding": {"color": {"field": "m", "type": "nominal"}, "shape": {"field": "r", "type": "nominal"}}},
    {"transform": [{"filter": "!isArray(datum.v) && datum.r === 'all'"}, {"calculate": "-1.5", "as": "xo"}], "mark": {"type": "rule", "strokeWidth": 3.3},
     "encoding": {"y": {"field": "lo", "type": "quantitative", "axis": null}, "y2": {"field": "hi"}, "color": {"field": "m", "type": "nominal"}}},
    {"transform": [{"filter": "!isArray(datum.v) && datum.r === 'all'"}, {"calculate": "-1.5", "as": "xo"}], "mark": {"type": "circle", "size": 140, "opacity": 1},
     "encoding": {"color": {"field": "m", "type": "nominal"}}},
    {"transform": [{"filter": "!isArray(datum.v) && datum.r !== 'all'"}, {"calculate": "datum.r === 'no' ? -0.5 : 0.5", "as": "xo"}], "mark": {"type": "rule", "strokeWidth": 2.7, "color": "#000"},
     "encoding": {"y": {"field": "lo", "type": "quantitative", "axis": null}, "y2": {"field": "hi"}}},
    {"transform": [{"filter": "!isArray(datum.v) && datum.r !== 'all'"}, {"calculate": "datum.r === 'no' ? -0.5 : 0.5", "as": "xo"}], "mark": {"type": "circle", "size": 70, "opacity": 1, "color": "#000"}}
   ]}
 ]}
]}
]
}
